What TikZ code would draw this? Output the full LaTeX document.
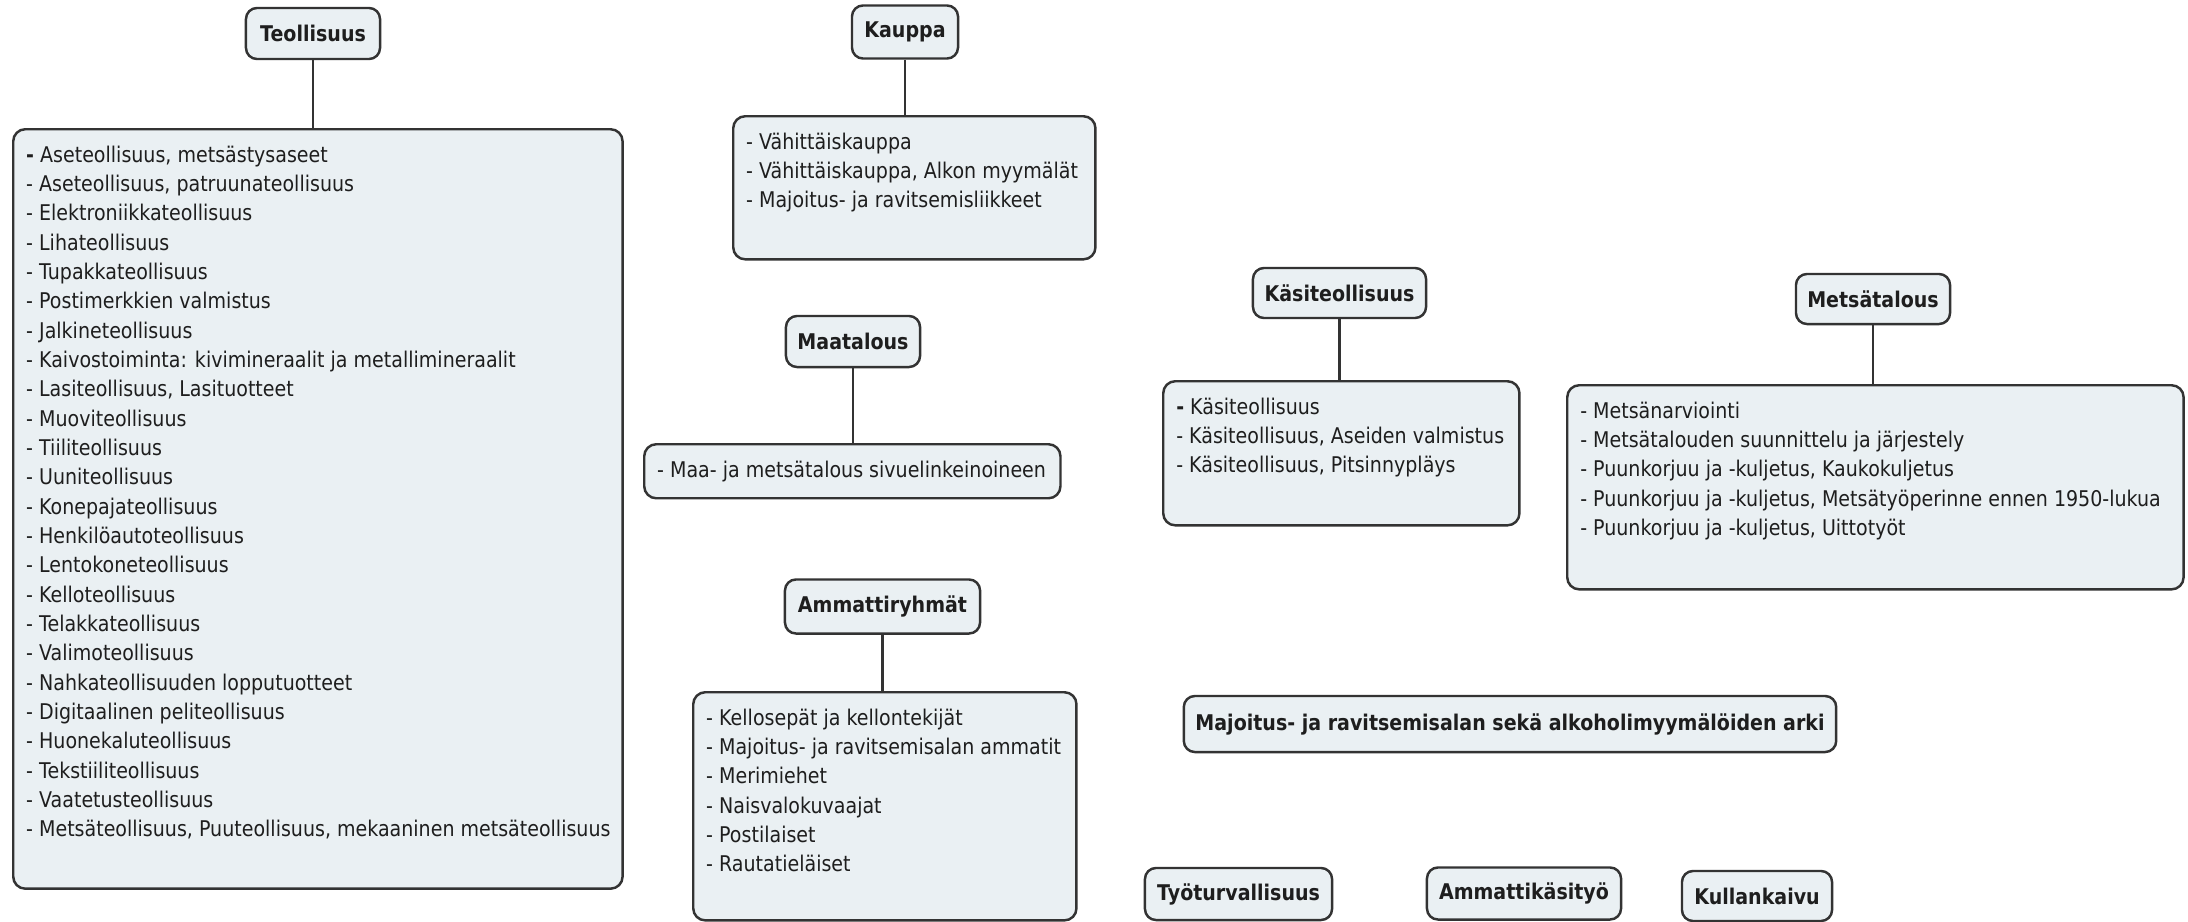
\documentclass[tikz,border=0pt]{standalone}
\usepackage{fontspec}
\usepackage{tikz}
\setmainfont{DejaVu Sans}[FakeStretch=0.88]

\definecolor{boxfill}{HTML}{EAF0F3}
\definecolor{edge}{HTML}{333333}
\definecolor{ink}{HTML}{1E1E1E}

\newcommand{\itemfont}{\fontsize{6.15pt}{8.34pt}\selectfont}
\newcommand{\headfont}{\fontsize{6.15pt}{8.34pt}\selectfont\bfseries}
\newcommand{\itemlist}[3]{\parbox[t][#2][t]{#1}{\hspace*{0.13cm}\begin{tabular}[t]{@{}l@{}}\rule{0pt}{0.33cm}#3\end{tabular}}}

\begin{document}
\begin{tikzpicture}[x=0.01cm,y=-0.01cm,
  head/.style={draw=edge,fill=boxfill,line width=0.7pt,rounded corners=1.1mm,inner sep=0pt,font=\headfont,text=ink},
  itembox/.style={draw=edge,fill=boxfill,line width=0.7pt,rounded corners=1.2mm,inner sep=0pt,anchor=north west,font=\itemfont,text=ink},
  link/.style={draw=edge,line width=0.6pt}]
\useasboundingbox (0,0) rectangle (2188,921);
% headings
\path node (teol) at (313,33.5) [head,minimum width=1.34cm,minimum height=0.51cm] {Teollisuus}
      node (kauppa) at (905,32) [head,minimum width=1.06cm,minimum height=0.53cm] {Kauppa}
      node (maa) at (853,341.5) [head,minimum width=1.34cm,minimum height=0.51cm] {Maatalous}
      node (kasi) at (1339.5,293) [head,minimum width=1.73cm,minimum height=0.50cm] {Käsiteollisuus}
      node (metsa) at (1873,299) [head,minimum width=1.54cm,minimum height=0.50cm] {Metsätalous}
      node (ammatti) at (882.5,606.5) [head,minimum width=1.95cm,minimum height=0.54cm] {Ammattiryhmät}
      node (arki) at (1510,724) [head,minimum width=6.52cm,minimum height=0.56cm] {Majoitus- ja ravitsemisalan sekä alkoholimyymälöiden arki}
      node (tyo) at (1238.5,894) [head,minimum width=1.87cm,minimum height=0.52cm] {Työturvallisuus}
      node (kasityo) at (1524,893.5) [head,minimum width=1.94cm,minimum height=0.52cm] {Ammattikäsityö}
      node (kulta) at (1757,896) [head,minimum width=1.50cm,minimum height=0.50cm] {Kullankaivu};
% item boxes
\node (teolbox) at (12,128) [itembox] {\itemlist{6.09cm}{7.59cm}{%
  {\bfseries -} Aseteollisuus, metsästysaseet\\
  - Aseteollisuus, patruunateollisuus\\
  - Elektroniikkateollisuus\\
  - Lihateollisuus\\
  - Tupakkateollisuus\\
  - Postimerkkien valmistus\\
  - Jalkineteollisuus\\
  - Kaivostoiminta: kivimineraalit ja metallimineraalit\\
  - Lasiteollisuus, Lasituotteet\\
  - Muoviteollisuus\\
  - Tiiliteollisuus\\
  - Uuniteollisuus\\
  - Konepajateollisuus\\
  - Henkilöautoteollisuus\\
  - Lentokoneteollisuus\\
  - Kelloteollisuus\\
  - Telakkateollisuus\\
  - Valimoteollisuus\\
  - Nahkateollisuuden lopputuotteet\\
  - Digitaalinen peliteollisuus\\
  - Huonekaluteollisuus\\
  - Tekstiiliteollisuus\\
  - Vaatetusteollisuus\\
  - Metsäteollisuus, Puuteollisuus, mekaaninen metsäteollisuus}};
\node (kauppabox) at (732,115) [itembox] {\itemlist{3.62cm}{1.43cm}{%
  - Vähittäiskauppa\\
  - Vähittäiskauppa, Alkon myymälät\\
  - Majoitus- ja ravitsemisliikkeet}};
\node (maabox) at (643,443) [itembox] {\itemlist{4.16cm}{0.54cm}{%
  - Maa- ja metsätalous sivuelinkeinoineen}};
\node (kasibox) at (1162,380) [itembox] {\itemlist{3.56cm}{1.44cm}{%
  {\bfseries -} Käsiteollisuus\\
  - Käsiteollisuus, Aseiden valmistus\\
  - Käsiteollisuus, Pitsinnypläys}};
\node (metsabox) at (1566,384) [itembox] {\itemlist{6.16cm}{2.04cm}{%
  - Metsänarviointi\\
  - Metsätalouden suunnittelu ja järjestely\\
  - Puunkorjuu ja -kuljetus, Kaukokuljetus\\
  - Puunkorjuu ja -kuljetus, Metsätyöperinne ennen 1950-lukua\\
  - Puunkorjuu ja -kuljetus, Uittotyöt}};
\node (ammattibox) at (692,691) [itembox] {\itemlist{3.83cm}{2.28cm}{%
  - Kellosepät ja kellontekijät\\
  - Majoitus- ja ravitsemisalan ammatit\\
  - Merimiehet\\
  - Naisvalokuvaajat\\
  - Postilaiset\\
  - Rautatieläiset}};
% links
\draw [link] (teol) -- (teol |- teolbox.north);
\draw [link] (kauppa) -- (kauppa |- kauppabox.north);
\draw [link] (maa) -- (maa |- maabox.north);
\draw [link] (kasi) -- (kasi |- kasibox.north);
\draw [link] (metsa) -- (metsa |- metsabox.north);
\draw [link] (ammatti) -- (ammatti |- ammattibox.north);
\end{tikzpicture}
\end{document}
